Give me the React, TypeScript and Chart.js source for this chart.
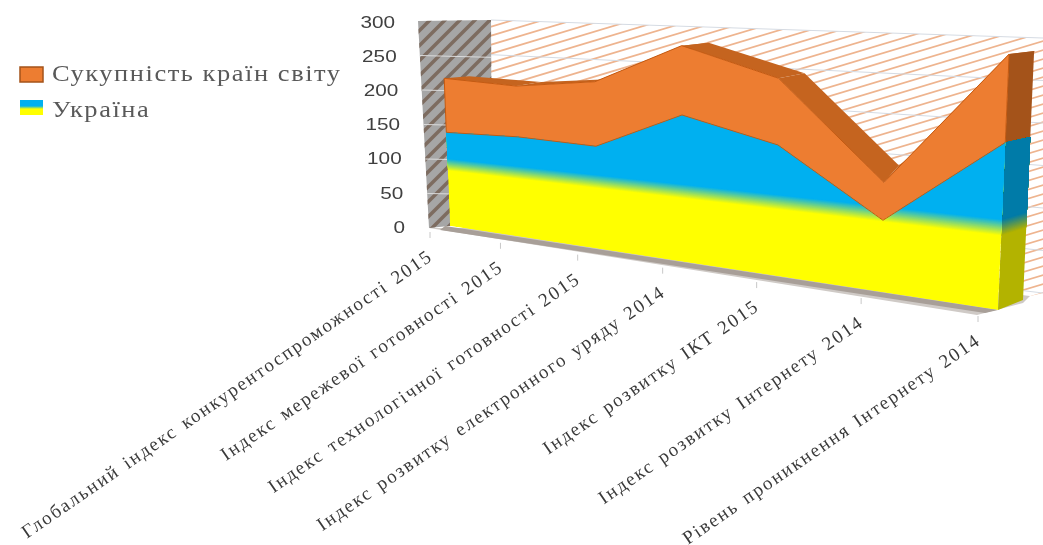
import React, { useEffect, useRef } from "react";
import { Chart, registerables } from "chart.js";

Chart.register(...registerables);

const categories = [
  "Глобальний індекс конкурентоспроможності 2015",
  "Індекс мережевої готовності 2015",
  "Індекс технологічної готовності 2015",
  "Індекс розвитку електронного уряду 2014",
  "Індекс розвитку ІКТ 2015",
  "Індекс розвитку Інтернету 2014",
  "Рівень проникнення Інтернету 2014",
];
const ukraine = [140, 143, 140, 190, 162, 85, 185];
const world = [79, 71, 86, 87, 80, 44, 94];
const yTicks = [0, 50, 100, 150, 200, 250, 300];

// Layout of the perspective drawing (screen positions of the plot plane corners)
const W = 1043;
const H = 545;
const BL = [450, 226];
const BR = [998, 310];
const TR = [1010, 34];
const TL = [442, 22];
const ribbon = [[25, -2], [25, -4], [25, -3], [27, -3], [26, -5], [15, -17], [26, -3]];
const GRAD_FROM = 83;
const GRAD_TO = 101;
const YELLOW = [255, 255, 0];
const BLUE = [0, 176, 240];
const SERIF = '"Liberation Serif", serif';
const SANS = '"Liberation Sans", Arial, sans-serif';

function makeHomography() {
  const [x0, y0] = BL, [x1, y1] = BR, [x2, y2] = TR, [x3, y3] = TL;
  const dx1 = x1 - x2, dx2 = x3 - x2, sx = x0 - x1 + x2 - x3;
  const dy1 = y1 - y2, dy2 = y3 - y2, sy = y0 - y1 + y2 - y3;
  const den = dx1 * dy2 - dx2 * dy1;
  const g = (sx * dy2 - dx2 * sy) / den;
  const h = (dx1 * sy - sx * dy1) / den;
  const a = x1 - x0 + g * x1, b = x3 - x0 + h * x3, c = x0;
  const d = y1 - y0 + g * y1, e = y3 - y0 + h * y3, f = y0;
  return (u: number, v: number) => {
    const w = g * u + h * v + 1;
    return [(a * u + b * v + c) / w, (d * u + e * v + f) / w];
  };
}
const H3 = makeHomography();

function poly(ctx: CanvasRenderingContext2D, pts: number[][]) {
  ctx.beginPath();
  pts.forEach((p, i) => (i ? ctx.lineTo(p[0], p[1]) : ctx.moveTo(p[0], p[1])));
  ctx.closePath();
}
function hatch(ctx: CanvasRenderingContext2D, pts: number[][], slope: number, gap: number, color: string, width: number) {
  ctx.save();
  poly(ctx, pts);
  ctx.clip();
  ctx.strokeStyle = color;
  ctx.lineWidth = width;
  for (let c = -600; c < 1400; c += gap) {
    ctx.beginPath();
    ctx.moveTo(300, c);
    ctx.lineTo(1100, c + slope * 800);
    ctx.stroke();
  }
  ctx.restore();
}
function bandColor(val: number, k = 1) {
  const t = Math.max(0, Math.min(1, (val - GRAD_FROM) / (GRAD_TO - GRAD_FROM)));
  const c = YELLOW.map((y, i) => Math.round((y + (BLUE[i] - y) * t) * k));
  return `rgb(${c[0]},${c[1]},${c[2]})`;
}

const scene = {
  id: "scene",
  beforeDatasetsDraw(chart: any) {
    const ctx: CanvasRenderingContext2D = chart.ctx;
    const area = chart.chartArea;
    const ys = chart.scales.y;
    const P = (x: number, y: number) =>
      H3((x - area.left) / (area.right - area.left), (area.bottom - y) / (area.bottom - area.top));
    const V = (u: number, val: number) => H3(u, (area.bottom - ys.getPixelForValue(val)) / (area.bottom - area.top));
    const blueMeta = chart.getDatasetMeta(0).data;
    const orangeMeta = chart.getDatasetMeta(1).data;
    const blueTop = blueMeta.map((p: any) => P(p.x, p.y));
    const orangeTop = orangeMeta.map((p: any) => P(p.x, p.y));
    const base = blueMeta.map((p: any) => P(p.x, ys.getPixelForValue(0)));
    const n = blueTop.length;

    ctx.save();
    // back wall
    const back = [[491, 20], [1043, 38], [1043, 293], [1030, 296], [470, 228]];
    ctx.fillStyle = "#ffffff";
    poly(ctx, back);
    ctx.fill();
    hatch(ctx, back, -0.3, 9, "#eeb48f", 1.7);
    ctx.strokeStyle = "#d5dbe3";
    ctx.lineWidth = 1;
    for (let i = 0; i <= 6; i++) {
      const t = i / 6;
      ctx.beginPath();
      ctx.moveTo(491, 20 + t * 208);
      ctx.lineTo(1043, 38 + t * 255);
      ctx.stroke();
    }
    // side wall
    const side = [[418, 21], [491, 20], [492, 226], [449, 226], [429, 228]];
    ctx.fillStyle = "#a6a6a6";
    poly(ctx, side);
    ctx.fill();
    hatch(ctx, side, -1, 15, "#7d6c60", 3.5);
    ctx.strokeStyle = "#dcdcdc";
    for (let i = 1; i <= 5; i++) {
      const t = i / 6;
      ctx.beginPath();
      ctx.moveTo(418 + t * 11, 21 + t * 207);
      ctx.lineTo(491, 20 + t * 206 + 3);
      ctx.stroke();
    }
    // floor
    ctx.fillStyle = "#cfcac6";
    poly(ctx, [[429, 228], [470, 228], [1030, 296], [1023, 303], [977, 315]]);
    ctx.fill();
    ctx.fillStyle = "#a89f98";
    poly(ctx, [[445, 226], [998, 310], [985, 313], [440, 230]]);
    ctx.fill();
    // category ticks on the floor edge
    ctx.strokeStyle = "#c8c8c8";
    ctx.lineWidth = 1;
    base.forEach((b: number[]) => {
      ctx.beginPath();
      ctx.moveTo(b[0] - 20, b[1] + 6);
      ctx.lineTo(b[0] - 20, b[1] + 12);
      ctx.stroke();
    });

    // top ribbon of the orange layer
    ctx.fillStyle = "#c5641f";
    for (let i = 0; i < n - 1; i++) {
      const a = orangeTop[i], b = orangeTop[i + 1];
      poly(ctx, [a, b, [b[0] + ribbon[i + 1][0], b[1] + ribbon[i + 1][1]], [a[0] + ribbon[i][0], a[1] + ribbon[i][1]]]);
      ctx.fill();
    }

    // right side face
    const lastO = orangeTop[n - 1], lastB = blueTop[n - 1], lastBase = base[n - 1];
    const depth = (pt: number[]) => {
      const t = (lastBase[1] - pt[1]) / (lastBase[1] - lastO[1]);
      return [pt[0] + 25, pt[1] - 10 + 7 * t];
    };
    ctx.fillStyle = "#a4531a";
    poly(ctx, [lastO, depth(lastO), depth(lastB), lastB]);
    ctx.fill();
    const topBlue = ukraine[n - 1];
    const rightTop = V(1, topBlue);
    ctx.fillStyle = bandColor(0, 0.7);
    poly(ctx, [V(1, 0), depth(V(1, 0)), depth(rightTop), rightTop]);
    ctx.fill();
    for (let v = GRAD_FROM; v <= GRAD_TO + 1; v += 0.5) {
      const a = V(1, v);
      ctx.fillStyle = bandColor(v, 0.7);
      poly(ctx, [a, depth(a), depth(rightTop), rightTop]);
      ctx.fill();
    }

    // orange layer front
    ctx.fillStyle = "#ed7d31";
    poly(ctx, [...orangeTop, ...[...blueTop].reverse()]);
    ctx.fill();

    // Ukraine layer front, value-banded yellow to blue, painted upward
    ctx.save();
    poly(ctx, [...blueTop, ...[...base].reverse()]);
    ctx.clip();
    ctx.fillStyle = bandColor(0);
    poly(ctx, [V(0, 0), V(1, 0), V(1, 310), V(0, 310)]);
    ctx.fill();
    for (let v = GRAD_FROM; v <= GRAD_TO + 1; v += 0.5) {
      ctx.fillStyle = bandColor(v);
      poly(ctx, [V(0, v), V(1, v), V(1, 310), V(0, 310)]);
      ctx.fill();
    }
    ctx.restore();

    ctx.strokeStyle = "#c55a11";
    ctx.lineWidth = 1;
    poly(ctx, [...orangeTop, ...[...blueTop].reverse()]);
    ctx.stroke();
    ctx.restore();
  },
  afterDraw(chart: any) {
    const ctx: CanvasRenderingContext2D = chart.ctx;
    const area = chart.chartArea;
    const xs = chart.scales.x;
    const ys = chart.scales.y;
    ctx.save();
    // value labels follow the tilted left edge of the side wall
    ctx.fillStyle = "#404040";
    ctx.textAlign = "right";
    ctx.textBaseline = "middle";
    ctx.font = `17px ${SANS}`;
    yTicks.forEach((t) => {
      const y = ys.getPixelForValue(t);
      const f = (y - area.top) / (area.bottom - area.top);
      ctx.save();
      ctx.translate(395 + 10 * f, y);
      ctx.scale(1.22, 1);
      ctx.fillText(String(t), 0, 0);
      ctx.restore();
    });
    // category labels, rotated, ending under each floor tick
    ctx.fillStyle = "#3a3a3a";
    ctx.font = `19px ${SERIF}`;
    (ctx as any).letterSpacing = "1.85px";
    (ctx as any).wordSpacing = "2px";
    categories.forEach((label, i) => {
      const x = xs.getPixelForValue(i);
      const y = ys.getPixelForValue(0);
      const b = H3((x - area.left) / (area.right - area.left), (area.bottom - y) / (area.bottom - area.top));
      ctx.save();
      ctx.translate(b[0] - 19, b[1] + 29);
      ctx.rotate((-34.5 * Math.PI) / 180);
      ctx.fillText(label, 0, 0);
      ctx.restore();
    });
    // legend, first entry is the upper layer
    ctx.textAlign = "left";
    ctx.font = `23px ${SERIF}`;
    (ctx as any).letterSpacing = "1.35px";
    (ctx as any).wordSpacing = "0px";
    const order = [1, 0];
    order.forEach((ds, row) => {
      const top = row === 0 ? 67 : 100;
      if (ds === 1) {
        ctx.fillStyle = "#ed7d31";
        ctx.fillRect(20, top, 23, 15);
        ctx.strokeStyle = "#a4531a";
        ctx.lineWidth = 1.5;
        ctx.strokeRect(20, top, 23, 15);
      } else {
        const g = ctx.createLinearGradient(0, top, 0, top + 15);
        g.addColorStop(0.4, "#00b0f0");
        g.addColorStop(0.6, "#ffff00");
        ctx.fillStyle = g;
        ctx.fillRect(20, top, 23, 15);
      }
      ctx.fillStyle = "#595959";
      ctx.textBaseline = "middle";
      ctx.save();
      ctx.translate(52, top + (row === 0 ? 8 : 11));
      ctx.scale(1.15, 1);
      ctx.fillText(chart.data.datasets[ds].label, 0, 0);
      ctx.restore();
    });
    ctx.restore();
  },
};

export default function App() {
  const ref = useRef<HTMLCanvasElement>(null);
  useEffect(() => {
    const chart = new Chart(ref.current!, {
      type: "line",
      data: {
        labels: categories,
        datasets: [
          { label: "Україна", data: ukraine, showLine: false, pointRadius: 0, fill: false, stack: "a", backgroundColor: "#00b0f0", borderColor: "#00b0f0" },
          { label: "Сукупність країн світу", data: world, showLine: false, pointRadius: 0, fill: false, stack: "a", backgroundColor: "#ed7d31", borderColor: "#ed7d31" },
        ],
      },
      options: {
        responsive: false,
        animation: false,
        layout: { padding: { left: 315, right: 13, top: 23, bottom: 317 } },
        plugins: { legend: { display: false }, tooltip: { enabled: false } },
        scales: {
          x: { display: false, offset: false },
          y: {
            stacked: true,
            min: 0,
            max: 300,
            afterFit: (s: any) => { s.width = 100; },
            afterBuildTicks: (s: any) => { s.ticks = yTicks.map((value) => ({ value })); },
            border: { display: false },
            grid: { display: false, drawTicks: false },
            ticks: { display: false },
          },
        },
      },
      plugins: [scene],
    } as any);
    return () => chart.destroy();
  }, []);
  return (
    <div style={{ position: "fixed", left: 0, top: 0, width: W, height: H, background: "#fff" }}>
      <canvas ref={ref} width={W} height={H} style={{ display: "block", width: W, height: H, filter: "blur(0.5px)" }} />
    </div>
  );
}
